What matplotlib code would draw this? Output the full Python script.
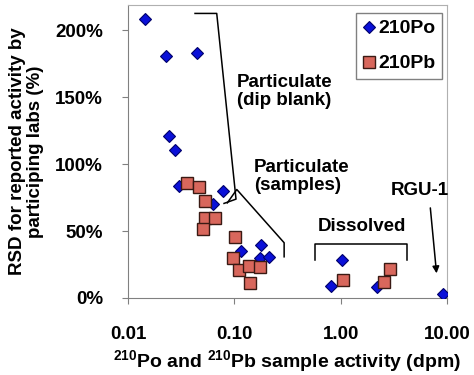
import matplotlib
matplotlib.use("Agg")
import matplotlib.pyplot as plt
from matplotlib.ticker import FixedLocator, FuncFormatter

plt.rcParams["font.family"] = ["Liberation Sans", "DejaVu Sans"]
plt.rcParams["mathtext.fontset"] = "custom"
plt.rcParams["mathtext.bf"] = "Liberation Sans:bold"
plt.rcParams["mathtext.rm"] = "Liberation Sans"

# 210Po (diamonds): activity (dpm), RSD (%)
po_x = [0.0145, 0.0228, 0.0449, 0.0245, 0.0275, 0.030, 0.0778, 0.0635,
        0.1164, 0.1795, 0.1746, 0.211, 0.807, 1.03, 2.19, 9.25]
po_y = [208.7, 180.6, 183.0, 120.9, 110.4, 83.8, 79.9, 69.9,
        35.1, 39.6, 29.6, 30.6, 9.0, 28.4, 8.0, 3.0]

# 210Pb (squares)
pb_x = [0.0361, 0.0462, 0.0533, 0.0533, 0.0655, 0.0505, 0.102, 0.098,
        0.111, 0.138, 0.175, 0.141, 1.06, 2.56, 2.92]
pb_y = [85.6, 82.6, 72.6, 59.5, 59.5, 51.3, 45.8, 29.6,
        20.9, 24.1, 23.4, 11.4, 13.4, 11.9, 21.4]

x_ticks = [0.01, 0.1, 1.0, 10.0]
y_ticks = [0, 50, 100, 150, 200]

fig = plt.figure(figsize=(4.74, 3.75), dpi=100)
ax = fig.add_axes([128 / 474, 1 - 298 / 375, (447 - 128) / 474, (298 - 5) / 375])

ax.plot(po_x, po_y, linestyle="none", marker="D", markersize=6.5,
        markerfacecolor="#0a10d8", markeredgecolor="#00006a", markeredgewidth=0.8,
        label="210Po", zorder=3)
ax.plot(pb_x, pb_y, linestyle="none", marker="s", markersize=8.5,
        markerfacecolor="#d8675c", markeredgecolor="#3a1a14", markeredgewidth=1.0,
        label="210Pb", zorder=4)

ax.set_xscale("log")
ax.set_xlim(0.01, 10)
ax.set_ylim(0, 219)
ax.xaxis.set_major_locator(FixedLocator(x_ticks))
ax.xaxis.set_minor_locator(FixedLocator([]))
ax.xaxis.set_major_formatter(FuncFormatter(lambda v, p: f"{v:.2f}"))
ax.yaxis.set_major_locator(FixedLocator(y_ticks))
ax.yaxis.set_major_formatter(FuncFormatter(lambda v, p: f"{v:.0f}%"))

for s in ["left", "bottom"]:
    ax.spines[s].set_color("#808080")
for s in ["top", "right"]:
    ax.spines[s].set_color("#b0b0b0")
ax.tick_params(axis="both", direction="out", length=4, color="#808080",
               labelsize=13.5)
ax.tick_params(axis="x", pad=16)
ax.tick_params(axis="y", pad=14)
for lbl in ax.get_xticklabels() + ax.get_yticklabels():
    lbl.set_fontweight("bold")

ax.set_xlabel("$\\mathbf{^{210}}$Po and $\\mathbf{^{210}}$Pb sample activity (dpm)",
              fontsize=14, fontweight="bold", labelpad=4)
ax.set_ylabel("RSD for reported activity by\nparticiping labs (%)",
              fontsize=13.5, fontweight="bold", labelpad=8, linespacing=1.05)

# bracket and arrow annotations
line_kw = dict(color="black", linewidth=1.1, zorder=2)
ax.plot([0.0427, 0.0683, 0.1037, 0.0800], [212.7, 212.7, 73.9, 70.7], **line_kw)
ax.plot([0.0859, 0.1055, 0.294, 0.294], [71.1, 81.1, 41.3, 30.8], **line_kw)
ax.plot([0.574, 0.574, 4.19, 4.19], [28.4, 40.1, 40.1, 28.4], **line_kw)
ax.annotate("", xy=(8.02, 16.4), xytext=(6.93, 69.4),
            arrowprops=dict(arrowstyle="-|>", color="black", lw=1.1,
                            mutation_scale=10))

txt_kw = dict(fontsize=13.5, fontweight="bold", va="center", ha="left")
ax.text(0.106, 154.5, "Particulate\n(dip blank)", linespacing=1.1, **txt_kw)
ax.text(0.153, 91, "Particulate\n(samples)", linespacing=1.1, **txt_kw)
ax.text(0.612, 53.7, "Dissolved", **txt_kw)
ax.text(2.98, 80, "RGU-1", **txt_kw)

leg = ax.legend(loc="upper right", bbox_to_anchor=(0.984, 0.973),
                prop=dict(size=14, weight="bold"), frameon=True, fancybox=False,
                handlelength=0.7, handletextpad=0.1, borderpad=0.35,
                labelspacing=0.9, borderaxespad=0.0)
leg.get_frame().set_edgecolor("#606060")
leg.get_frame().set_linewidth(1.0)

fig.savefig("out.png", dpi=100)
